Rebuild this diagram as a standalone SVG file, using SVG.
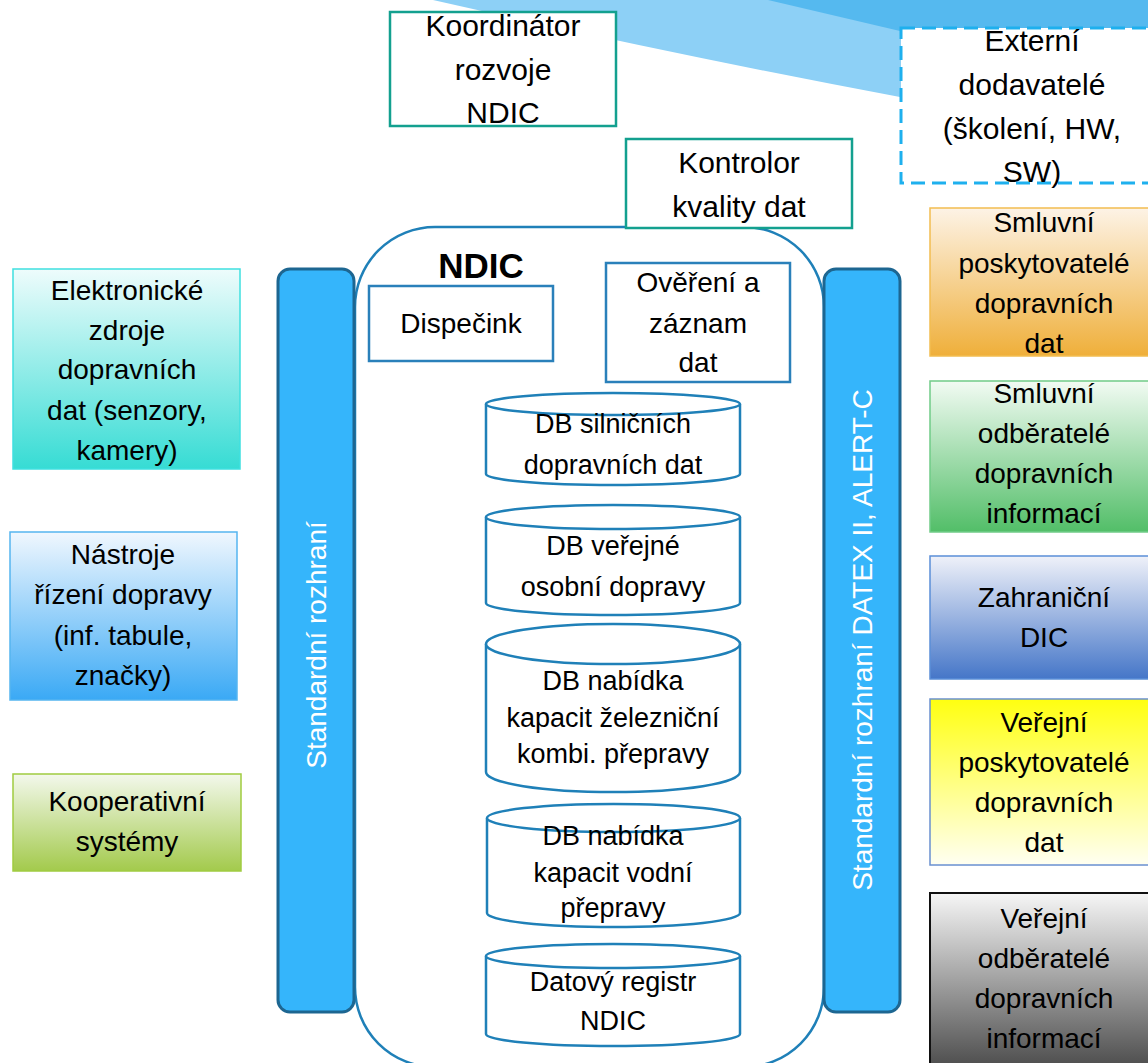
<svg xmlns="http://www.w3.org/2000/svg" width="1148" height="1063" viewBox="0 0 1148 1063">
  <defs>
    <style>
      .t{font-family:"Liberation Sans",Arial,sans-serif;font-size:28px;fill:#000;text-anchor:middle}
      .big{font-size:30px}
      .db{font-size:27px}
      .w{fill:#fff}
      .teal{fill:#fff;stroke:#13a08f;stroke-width:2.5}
      .inner{fill:#fff;stroke:#2a80ba;stroke-width:2.5}
      .bar{fill:#35b5fb;stroke:#1d6691;stroke-width:3}
      .cyl{fill:#fff;stroke:#1f80b8;stroke-width:2.5}
    </style>
    <linearGradient id="gCyan" x1="0" y1="0" x2="0" y2="1"><stop offset="0" stop-color="#eefcfc"/><stop offset="1" stop-color="#36dcd4"/></linearGradient>
    <linearGradient id="gSky" x1="0" y1="0" x2="0" y2="1"><stop offset="0" stop-color="#f0f7fe"/><stop offset="1" stop-color="#3aa9f5"/></linearGradient>
    <linearGradient id="gLime" x1="0" y1="0" x2="0" y2="1"><stop offset="0" stop-color="#f3f8ec"/><stop offset="1" stop-color="#a3ca4c"/></linearGradient>
    <linearGradient id="gOrange" x1="0" y1="0" x2="0" y2="1"><stop offset="0" stop-color="#fdf3e6"/><stop offset="1" stop-color="#efaf3a"/></linearGradient>
    <linearGradient id="gGreen" x1="0" y1="0" x2="0" y2="1"><stop offset="0" stop-color="#f2fbf3"/><stop offset="1" stop-color="#52be68"/></linearGradient>
    <linearGradient id="gBlue" x1="0" y1="0" x2="0" y2="1"><stop offset="0" stop-color="#eff1f9"/><stop offset="1" stop-color="#4576c8"/></linearGradient>
    <linearGradient id="gYellow" x1="0" y1="0" x2="0" y2="1"><stop offset="0" stop-color="#ffff10"/><stop offset="1" stop-color="#fffff2"/></linearGradient>
    <linearGradient id="gGray" x1="0" y1="0" x2="0" y2="1"><stop offset="0" stop-color="#f6f6f6"/><stop offset="1" stop-color="#3e3e3e"/></linearGradient>
  </defs>

  <rect width="1148" height="1063" fill="#fff"/>

  <!-- decorative swoosh along the top edge -->
  <g id="swoosh">
    <path d="M433,0 L1148,0 L1148,140 L900,97 Q 680,56 433,0 Z" fill="#8dd0f6"/>
    <path d="M768,0 L1148,0 L1148,40 L900,31 Z" fill="#55b9ef"/>
  </g>

  <!-- NDIC container -->
  <g id="ndic">
    <rect x="355" y="227" width="469" height="840" rx="80" ry="80" fill="#fff" stroke="#1f80b8" stroke-width="2.5"/>
    <text class="t" x="481" y="278" style="font-size:35px;font-weight:bold">NDIC</text>
  </g>

  <!-- interface bars -->
  <g id="bar-left">
    <rect class="bar" x="278" y="269" width="76" height="743" rx="12"/>
    <text class="t w" transform="translate(326,645) rotate(-90)">Standardní rozhraní</text>
  </g>
  <g id="bar-right">
    <rect class="bar" x="824" y="269" width="76" height="743" rx="12"/>
    <text class="t w" transform="translate(872,640) rotate(-90)">Standardní rozhraní DATEX II, ALERT-C</text>
  </g>

  <!-- top roles -->
  <g id="koordinator">
    <rect class="teal" x="390" y="12" width="226" height="114"/>
    <text class="t big" x="503" y="36">Koordinátor</text>
    <text class="t big" x="503" y="80">rozvoje</text>
    <text class="t big" x="503" y="123">NDIC</text>
  </g>
  <g id="kontrolor">
    <rect class="teal" x="626" y="139" width="226" height="89"/>
    <text class="t big" x="739" y="173">Kontrolor</text>
    <text class="t big" x="739" y="217">kvality dat</text>
  </g>
  <g id="externi">
    <rect x="901" y="28" width="260" height="155" fill="#fff" stroke="#1eb0ee" stroke-width="3" stroke-dasharray="14 7"/>
    <text class="t big" x="1032" y="51">Externí</text>
    <text class="t big" x="1032" y="95">dodavatelé</text>
    <text class="t big" x="1032" y="139">(školení, HW,</text>
    <text class="t big" x="1032" y="182">SW)</text>
  </g>

  <!-- inner NDIC units -->
  <g id="dispecink">
    <rect class="inner" x="369" y="286" width="184" height="75"/>
    <text class="t" x="461" y="333">Dispečink</text>
  </g>
  <g id="overeni">
    <rect class="inner" x="606" y="263" width="184" height="119"/>
    <text class="t" x="698" y="292">Ověření a</text>
    <text class="t" x="698" y="333">záznam</text>
    <text class="t" x="698" y="372">dat</text>
  </g>

  <!-- databases -->
  <g id="db-silnice">
    <path class="cyl" d="M486,404 V474 A127,11 0 0 0 740,474 V404"/>
    <ellipse class="cyl" cx="613" cy="404" rx="127" ry="11"/>
    <text class="t db" x="613" y="433">DB silničních</text>
    <text class="t db" x="613" y="474">dopravních dat</text>
  </g>
  <g id="db-verejna">
    <path class="cyl" d="M486,517 V603 A127,12 0 0 0 740,603 V517"/>
    <ellipse class="cyl" cx="613" cy="517" rx="127" ry="12"/>
    <text class="t db" x="613" y="555">DB veřejné</text>
    <text class="t db" x="613" y="596">osobní dopravy</text>
  </g>
  <g id="db-zeleznice">
    <path class="cyl" d="M486,644 V772 A127,20 0 0 0 740,772 V644"/>
    <ellipse class="cyl" cx="613" cy="644" rx="127" ry="20"/>
    <text class="t db" x="613" y="690">DB nabídka</text>
    <text class="t db" x="613" y="727">kapacit železniční</text>
    <text class="t db" x="613" y="763">kombi. přepravy</text>
  </g>
  <g id="db-voda">
    <path class="cyl" d="M487,818 V913 A126.5,14 0 0 0 740,913 V818"/>
    <ellipse class="cyl" cx="613.5" cy="818" rx="126.5" ry="14"/>
    <text class="t db" x="613" y="845">DB nabídka</text>
    <text class="t db" x="613" y="882">kapacit vodní</text>
    <text class="t db" x="613" y="917">přepravy</text>
  </g>
  <g id="db-registr">
    <path class="cyl" d="M486,956 V1034 A127,12 0 0 0 740,1034 V956"/>
    <ellipse class="cyl" cx="613" cy="956" rx="127" ry="12"/>
    <text class="t db" x="613" y="991">Datový registr</text>
    <text class="t db" x="613" y="1030">NDIC</text>
  </g>

  <!-- data sources on the left -->
  <g id="elektronicke">
    <rect x="13" y="269" width="227" height="200" fill="url(#gCyan)" stroke="#3fe0e0" stroke-width="1.5"/>
    <text class="t" x="127" y="300">Elektronické</text>
    <text class="t" x="127" y="340">zdroje</text>
    <text class="t" x="127" y="379">dopravních</text>
    <text class="t" x="127" y="420">dat (senzory,</text>
    <text class="t" x="127" y="460">kamery)</text>
  </g>
  <g id="nastroje">
    <rect x="10" y="532" width="227" height="168" fill="url(#gSky)" stroke="#55b5f0" stroke-width="1.5"/>
    <text class="t" x="123" y="564">Nástroje</text>
    <text class="t" x="123" y="604">řízení dopravy</text>
    <text class="t" x="123" y="645">(inf. tabule,</text>
    <text class="t" x="123" y="685">značky)</text>
  </g>
  <g id="kooperativni">
    <rect x="13" y="774" width="228" height="97" fill="url(#gLime)" stroke="#a0cc40" stroke-width="1.5"/>
    <text class="t" x="127" y="811">Kooperativní</text>
    <text class="t" x="127" y="851">systémy</text>
  </g>

  <!-- partners on the right -->
  <g id="smluvni-poskytovatele">
    <rect x="930" y="208" width="240" height="148" fill="url(#gOrange)" stroke="#f2bd50" stroke-width="1.5"/>
    <text class="t" x="1044" y="232">Smluvní</text>
    <text class="t" x="1044" y="273">poskytovatelé</text>
    <text class="t" x="1044" y="313">dopravních</text>
    <text class="t" x="1044" y="353">dat</text>
  </g>
  <g id="smluvni-odberatele">
    <rect x="930" y="381" width="240" height="151" fill="url(#gGreen)" stroke="#70cc88" stroke-width="1.5"/>
    <text class="t" x="1044" y="403">Smluvní</text>
    <text class="t" x="1044" y="443">odběratelé</text>
    <text class="t" x="1044" y="483">dopravních</text>
    <text class="t" x="1044" y="523">informací</text>
  </g>
  <g id="zahranicni-dic">
    <rect x="930" y="556" width="240" height="123" fill="url(#gBlue)" stroke="#5b8fd8" stroke-width="1.5"/>
    <text class="t" x="1044" y="607">Zahraniční</text>
    <text class="t" x="1044" y="647">DIC</text>
  </g>
  <g id="verejni-poskytovatele">
    <rect x="930" y="699" width="240" height="166" fill="url(#gYellow)" stroke="#6a90d0" stroke-width="1.5"/>
    <text class="t" x="1044" y="732">Veřejní</text>
    <text class="t" x="1044" y="772">poskytovatelé</text>
    <text class="t" x="1044" y="812">dopravních</text>
    <text class="t" x="1044" y="852">dat</text>
  </g>
  <g id="verejni-odberatele">
    <rect x="930" y="893" width="240" height="190" fill="url(#gGray)" stroke="#111" stroke-width="2"/>
    <text class="t" x="1044" y="928">Veřejní</text>
    <text class="t" x="1044" y="968">odběratelé</text>
    <text class="t" x="1044" y="1008">dopravních</text>
    <text class="t" x="1044" y="1048">informací</text>
  </g>

  <g id="connectors"/>
</svg>
